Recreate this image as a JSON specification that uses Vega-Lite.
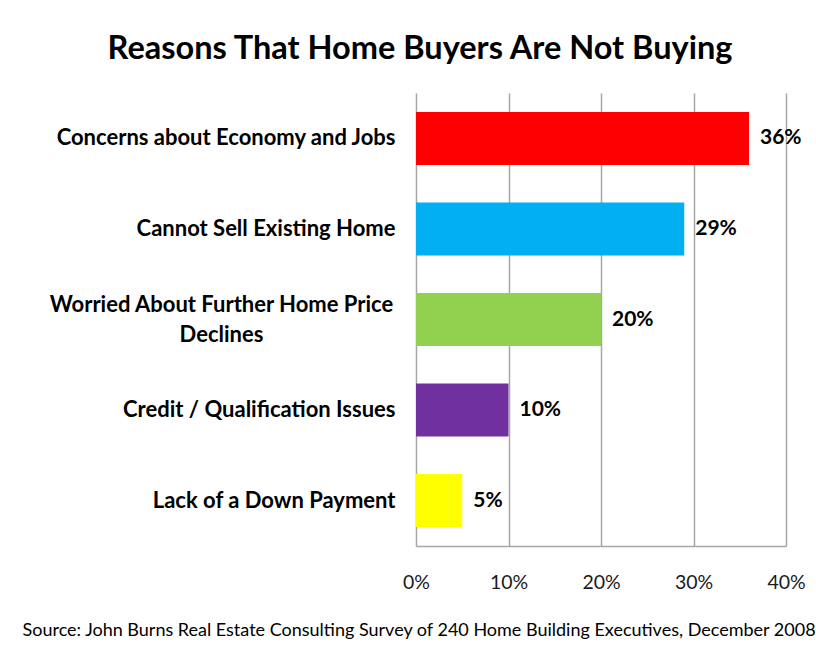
{
  "$schema": "https://vega.github.io/schema/vega-lite/v6.json",
  "autosize": {"type": "none"},
  "padding": {"left": 416, "top": 93, "right": 30, "bottom": 99},
  "width": 370,
  "height": 453,
  "background": "white",
  "title": {
    "text": "Reasons That Home Buyers Are Not Buying",
    "font": "Lato",
    "fontSize": 32.5,
    "fontWeight": "bold",
    "color": "#000000",
    "anchor": "middle",
    "dx": -181,
    "offset": 28
  },
  "config": {
    "view": {"stroke": null},
    "font": "Lato"
  },
  "data": {
    "values": [
      {"reason": "Concerns about Economy and Jobs", "pct": 36, "label": "36%", "color": "#FF0000"},
      {"reason": "Cannot Sell Existing Home", "pct": 29, "label": "29%", "color": "#00B0F0"},
      {"reason": "Worried About Further Home Price Declines", "pct": 20, "label": "20%", "color": "#92D050"},
      {"reason": "Credit / Qualification Issues", "pct": 10, "label": "10%", "color": "#7030A0"},
      {"reason": "Lack of a Down Payment", "pct": 5, "label": "5%", "color": "#FFFF00"}
    ]
  },
  "encoding": {
    "y": {
      "field": "reason",
      "type": "nominal",
      "sort": null,
      "scale": {"paddingInner": 0.415, "paddingOuter": 0.21},
      "axis": {
        "title": null,
        "domain": false,
        "ticks": false,
        "labelFont": "Lato",
        "labelFontSize": 22,
        "labelFontWeight": "bold",
        "labelColor": "#000000",
        "labelLineHeight": 30,
        "labelLimit": 500,
        "labelExpr": "datum.value == 'Worried About Further Home Price Declines' ? ['Worried About Further Home Price', 'Declines'] : datum.value",
        "labelAlign": {"condition": {"test": "datum.value == 'Worried About Further Home Price Declines'", "value": "center"}, "value": "right"},
        "labelPadding": {"condition": {"test": "datum.value == 'Worried About Further Home Price Declines'", "value": 195}, "value": 21},
        "labelOffset": {"condition": {"test": "datum.value == 'Worried About Further Home Price Declines'", "value": -15}, "value": 0}
      }
    }
  },
  "layer": [
    {
      "mark": {"type": "bar"},
      "encoding": {
        "x": {
          "field": "pct",
          "type": "quantitative",
          "scale": {"domain": [0, 40], "nice": false},
          "axis": {
            "values": [0, 10, 20, 30, 40],
            "labelExpr": "datum.value + '%'",
            "labelFlush": false,
            "grid": true,
            "gridColor": "#a6a6a6",
            "gridWidth": 1.5,
            "domain": true,
            "domainColor": "#a6a6a6",
            "domainWidth": 1.5,
            "ticks": false,
            "labelFont": "Lato",
            "labelFontSize": 19.5,
            "labelColor": "#1a1a1a",
            "labelPadding": 27,
            "title": "Source: John Burns Real Estate  Consulting Survey of 240 Home  Building Executives, December 2008",
            "titleFont": "Lato",
            "titleFontSize": 18,
            "titleFontWeight": "normal",
            "titleColor": "#000000",
            "titleAlign": "left",
            "titleAnchor": "start",
            "titleX": -394,
            "titleY": 84,
            "titleBaseline": "middle"
          }
        },
        "color": {"field": "color", "type": "nominal", "scale": null}
      }
    },
    {
      "mark": {"type": "text", "align": "left", "dx": 11, "font": "Lato", "fontSize": 21, "fontWeight": "bold", "color": "#000000", "baseline": "middle"},
      "encoding": {
        "x": {"field": "pct", "type": "quantitative"},
        "text": {"field": "label"}
      }
    }
  ]
}
